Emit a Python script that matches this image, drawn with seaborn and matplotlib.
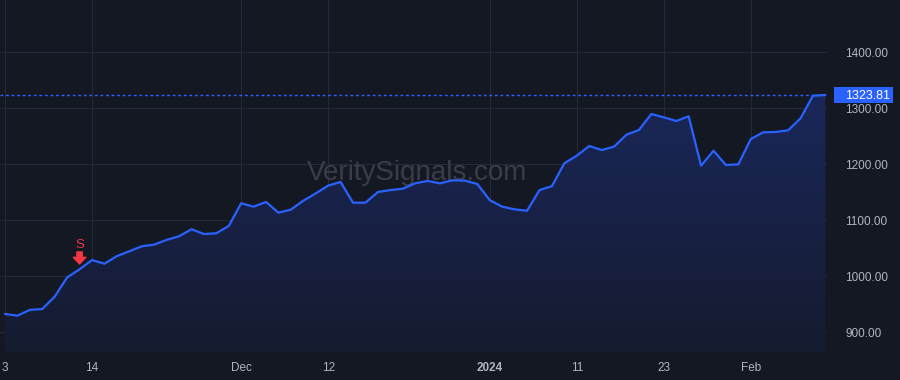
import numpy as np
import pandas as pd
import matplotlib
matplotlib.use("Agg")
import matplotlib.pyplot as plt
import seaborn as sns
from matplotlib.patches import Polygon, FancyBboxPatch
from matplotlib.transforms import blended_transform_factory
from matplotlib.colors import LinearSegmentedColormap

# ---------------- data ----------------
holidays = ["2023-11-23", "2023-12-25", "2024-01-01", "2024-01-15"]
dates = [d for d in pd.bdate_range("2023-11-03", "2024-02-09") if d.strftime("%Y-%m-%d") not in holidays]

prices = [
    932.7, 929.7, 940.0, 941.6, 963.6, 998.0, 1012.5, 1029.0, 1022.5, 1036.0,
    1044.6, 1053.6, 1056.5, 1065.0, 1071.4, 1084.0, 1075.5, 1076.8, 1089.8, 1130.4,
    1124.3, 1132.7, 1113.6, 1119.0, 1135.0, 1148.0, 1162.0, 1168.4, 1131.4, 1131.4,
    1150.5, 1154.0, 1156.4, 1166.0, 1170.2, 1166.0, 1171.4, 1170.8, 1164.8, 1136.0,
    1124.3, 1119.6, 1117.0, 1154.0, 1161.0, 1201.8, 1215.4, 1232.7, 1225.5, 1231.5,
    1252.9, 1261.3, 1289.8, 1283.9, 1277.3, 1285.7, 1197.5, 1224.3, 1198.7, 1200.0,
    1245.2, 1257.1, 1257.7, 1260.7, 1282.0, 1322.5, 1323.81,
]
last_price = 1323.81
signal_date = "2023-11-13"
signal_label = "S"

tick_dates = ["2023-11-03", "2023-11-14", "2023-12-01", "2023-12-12",
              "2024-01-02", "2024-01-11", "2024-01-23", "2024-02-01"]
tick_labels = ["3", "14", "Dec", "12", "2024", "11", "23", "Feb"]
y_ticks = [900, 1000, 1100, 1200, 1300, 1400]
watermark = "VeritySignals.com"

# ---------------- style ----------------
BG = "#141823"
GRID = "#252a36"
LINE = "#2962ff"
TXT = "#b2b5be"
RED = "#f23645"

sns.set_theme(style="dark")
plt.rcParams["font.family"] = ["Liberation Sans", "DejaVu Sans"]

df = pd.DataFrame({"date": dates[:len(prices)], "price": prices})
df["idx"] = np.arange(len(df))
date_pos = {d.strftime("%Y-%m-%d"): i for i, d in enumerate(df["date"])}

W, H = 900, 380
fig = plt.figure(figsize=(W / 100, H / 100), dpi=100, facecolor=BG)
ax = fig.add_axes([0, 28 / H, 827 / W, 352 / H])
ax.set_facecolor(BG)

ymin, ymax = 864.8, 1493.4
xmin, xmax = -0.40, 66.13
ax.set_xlim(xmin, xmax)
ax.set_ylim(ymin, ymax)

# gradient fill under the line
grad = np.linspace(0, 1, 256).reshape(-1, 1)
cmap = LinearSegmentedColormap.from_list("g", ["#151b2f", "#1a275a"])
top = max(prices)
im = ax.imshow(grad, extent=[xmin, xmax, ymin, top], origin="lower",
               cmap=cmap, aspect="auto", zorder=1)
verts = [(df["idx"].iloc[0], ymin)] + list(zip(df["idx"], df["price"])) + [(df["idx"].iloc[-1], ymin)]
poly = Polygon(verts, closed=True, facecolor="none", edgecolor="none")
ax.add_patch(poly)
im.set_clip_path(poly)

sns.lineplot(data=df, x="idx", y="price", ax=ax, color=LINE, linewidth=1.6, zorder=3)

# grid
for t in y_ticks:
    ax.axhline(t, color=GRID, lw=0.8, zorder=0.5)
tick_pos = [date_pos[d] for d in tick_dates]
for p in tick_pos:
    ax.axvline(p, color=GRID, lw=0.8, zorder=0.5)

# last price dotted line
ax.axhline(last_price, color=LINE, lw=1.0, ls=(0, (2, 2)), zorder=2)

# axes formatting
for s in ax.spines.values():
    s.set_visible(False)
ax.set_xlabel("")
ax.set_ylabel("")
ax.set_xticks(tick_pos)
ax.set_xticklabels(tick_labels)
ax.tick_params(axis="x", length=0, pad=7, labelsize=8.5, colors=TXT)
for lab in ax.get_xticklabels():
    if lab.get_text() == "2024":
        lab.set_fontweight("bold")
ax.yaxis.tick_right()
ax.set_yticks(y_ticks)
ax.set_yticklabels([f"{v:.2f}" for v in y_ticks])
ax.tick_params(axis="y", length=0, pad=13, labelsize=8.5, colors=TXT)
ax.grid(False)

# price label box on the price scale
px_per_unit = 0.56
box_h = 16 / px_per_unit
btr = blended_transform_factory(fig.transFigure, ax.transData)
box = FancyBboxPatch((834 / W, last_price - box_h / 2), 59 / W, box_h,
                     boxstyle="square,pad=0",
                     transform=btr, fc=LINE, ec="none", clip_on=False, zorder=10)
fig.add_artist(box)
fig.text(845 / W, last_price, f"{last_price:.2f}", transform=btr, ha="left",
         va="center_baseline", color="white", fontsize=9, zorder=11)

# signal marker
si = date_pos[signal_date]
sy = df["price"].iloc[si]
ax.annotate("", xy=(si, sy), xytext=(0, 12.5), textcoords="offset points",
            arrowprops=dict(arrowstyle="simple,head_length=0.4,head_width=0.75,tail_width=0.32",
                            color=RED, shrinkA=0, shrinkB=3.8), zorder=6)
ax.annotate(signal_label, xy=(si, sy), xytext=(0, 13.5), textcoords="offset points",
            ha="center", va="bottom", color=RED, fontsize=9.5, zorder=6)

# watermark
ax.text(0.504, 1 - 173 / 352, watermark, transform=ax.transAxes, ha="center", va="center",
        fontsize=20, color="#3a3d47", zorder=2)

fig.savefig("out.png", dpi=100, facecolor=BG)
